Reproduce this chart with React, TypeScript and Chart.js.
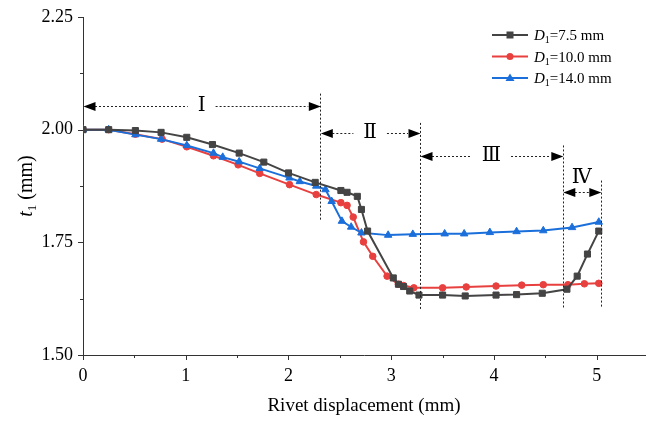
import React, { useEffect, useRef } from 'react';
import { Chart, registerables } from 'chart.js';
Chart.register(...registerables);

// ---- data ----
const x75 = [0, 0.25, 0.51, 0.76, 1.01, 1.26, 1.52, 1.76, 2.0, 2.26, 2.51, 2.57, 2.67, 2.71, 2.77, 3.02, 3.07, 3.12, 3.18, 3.27, 3.5, 3.72, 4.02, 4.22, 4.47, 4.71, 4.81, 4.91, 5.02];
const y75 = [2.0, 2.0, 1.998, 1.994, 1.983, 1.967, 1.948, 1.928, 1.904, 1.883, 1.865, 1.861, 1.852, 1.823, 1.775, 1.671, 1.657, 1.652, 1.642, 1.633, 1.633, 1.631, 1.633, 1.634, 1.637, 1.646, 1.675, 1.724, 1.775];

const x10 = [0, 0.25, 0.51, 0.77, 1.01, 1.27, 1.51, 1.72, 2.01, 2.27, 2.51, 2.57, 2.63, 2.73, 2.82, 2.96, 3.07, 3.12, 3.22, 3.5, 3.73, 4.02, 4.27, 4.48, 4.72, 4.88, 5.02];
const y10 = [2.0, 2.0, 1.99, 1.979, 1.962, 1.942, 1.922, 1.903, 1.878, 1.856, 1.838, 1.832, 1.806, 1.751, 1.719, 1.675, 1.657, 1.654, 1.649, 1.649, 1.651, 1.653, 1.655, 1.656, 1.656, 1.658, 1.659];

const x14 = [0, 0.25, 0.51, 0.76, 1.01, 1.27, 1.36, 1.52, 1.72, 2.01, 2.11, 2.27, 2.36, 2.42, 2.52, 2.61, 2.71, 2.97, 3.21, 3.52, 3.71, 3.96, 4.22, 4.48, 4.76, 5.02];
const y14 = [2.0, 2.0, 1.989, 1.979, 1.965, 1.948, 1.939, 1.929, 1.914, 1.893, 1.885, 1.875, 1.867, 1.841, 1.797, 1.784, 1.771, 1.766, 1.768, 1.769, 1.769, 1.772, 1.774, 1.776, 1.783, 1.795];

const seriesNames = ['7.5 mm', '10.0 mm', '14.0 mm'];
const xTicks = [0, 1, 2, 3, 4, 5];
const yTicks = [1.5, 1.75, 2.0, 2.25];

// region annotations (data units)
const regionBounds = [0, 2.31, 3.28, 4.67, 5.04];
const regionLabels = ['Ⅰ', 'Ⅱ', 'Ⅲ', 'Ⅳ'];
const regionArrowY = [2.053, 1.993, 1.942, 1.861];
const dividerTop = [2.08, 2.015, 1.965, 1.887];
const dividerBottom = [1.799, 1.6, 1.604, 1.604];

const COLORS = ['#444444', '#e8403f', '#1b6fdb'];
const STYLES = ['rect', 'circle', 'triangle'];
const SERIF = '"Liberation Serif", "Times New Roman", "DejaVu Serif", serif';

function pts(xs: number[], ys: number[]) {
  return xs.map((x, i) => ({ x, y: ys[i] }));
}

function drawArrowHead(ctx: CanvasRenderingContext2D, tipX: number, y: number, dir: number) {
  const L = 12, H = 4.5;
  ctx.beginPath();
  ctx.moveTo(tipX, y);
  ctx.lineTo(tipX - dir * L, y - H);
  ctx.lineTo(tipX - dir * L, y + H);
  ctx.closePath();
  ctx.fill();
}

const annotPlugin = {
  id: 'annot',
  afterDraw(chart: any) {
    const ctx: CanvasRenderingContext2D = chart.ctx;
    const xs = chart.scales.x;
    const ys = chart.scales.y;
    const ca = chart.chartArea;
    ctx.save();
    // ticks (major + minor)
    ctx.strokeStyle = '#333';
    ctx.lineWidth = 1;
    for (let v = 0; v <= 5.46; v += 0.5) {
      const px = Math.round(xs.getPixelForValue(v)) + 0.5;
      const major = Math.abs(v - Math.round(v)) < 1e-6;
      ctx.beginPath();
      ctx.moveTo(px, ca.bottom);
      ctx.lineTo(px, ca.bottom + (major ? 5 : 3));
      ctx.stroke();
    }
    for (let v = 1.5; v <= 2.2501; v += 0.125) {
      const py = Math.round(ys.getPixelForValue(v)) + 0.5;
      const major = Math.abs(v * 4 - Math.round(v * 4)) < 1e-6;
      ctx.beginPath();
      ctx.moveTo(ca.left, py);
      ctx.lineTo(ca.left - (major ? 5 : 3), py);
      ctx.stroke();
    }

    // dividers
    ctx.setLineDash([2, 2]);
    ctx.strokeStyle = '#222';
    for (let i = 1; i < regionBounds.length; i++) {
      const px = Math.round(xs.getPixelForValue(regionBounds[i])) + 0.5;
      ctx.beginPath();
      ctx.moveTo(px, ys.getPixelForValue(dividerTop[i - 1]));
      ctx.lineTo(px, ys.getPixelForValue(dividerBottom[i - 1]));
      ctx.stroke();
    }
    // arrows + labels
    ctx.font = `20px ${SERIF}`;
    ctx.textAlign = 'center';
    ctx.textBaseline = 'middle';
    for (let i = 0; i < regionLabels.length; i++) {
      const x0 = xs.getPixelForValue(regionBounds[i]);
      const x1 = xs.getPixelForValue(regionBounds[i + 1]);
      const py = Math.round(ys.getPixelForValue(regionArrowY[i])) + 0.5;
      const mid = (x0 + x1) / 2;
      const inline = i < 3;
      ctx.setLineDash([2, 2]);
      ctx.strokeStyle = '#222';
      ctx.beginPath();
      if (inline) {
        const w = ctx.measureText(regionLabels[i]).width / 2 + 10;
        ctx.moveTo(x0 + 12, py);
        ctx.lineTo(mid - w, py);
        ctx.moveTo(mid + w, py);
        ctx.lineTo(x1 - 12, py);
      } else {
        ctx.moveTo(x0 + 12, py);
        ctx.lineTo(x1 - 12, py);
      }
      ctx.stroke();
      ctx.setLineDash([]);
      ctx.fillStyle = '#000';
      drawArrowHead(ctx, x0 + 0.5, py, -1);
      drawArrowHead(ctx, x1 + 0.5, py, 1);
      ctx.fillStyle = '#000';
      if (inline) ctx.fillText(regionLabels[i], mid, py - 1);
      else ctx.fillText(regionLabels[i], mid, py - 15);
    }
    ctx.setLineDash([]);

    // legend
    const lx = ca.right - 153;
    const ly0 = ca.top + 18;
    for (let i = 0; i < seriesNames.length; i++) {
      const y = ly0 + i * 21.5;
      ctx.strokeStyle = COLORS[i];
      ctx.fillStyle = COLORS[i];
      ctx.lineWidth = 2;
      ctx.beginPath();
      ctx.moveTo(lx, y);
      ctx.lineTo(lx + 36, y);
      ctx.stroke();
      const cx = lx + 18;
      if (i === 0) ctx.fillRect(cx - 3.5, y - 3.5, 7, 7);
      else if (i === 1) {
        ctx.beginPath();
        ctx.arc(cx, y, 3.5, 0, Math.PI * 2);
        ctx.fill();
      } else {
        ctx.beginPath();
        ctx.moveTo(cx, y - 4.5);
        ctx.lineTo(cx + 4.5, y + 3);
        ctx.lineTo(cx - 4.5, y + 3);
        ctx.closePath();
        ctx.fill();
      }
      ctx.fillStyle = '#000';
      ctx.textAlign = 'left';
      ctx.textBaseline = 'alphabetic';
      let tx = lx + 42;
      const base = y + 5;
      ctx.font = `italic 15px ${SERIF}`;
      ctx.fillText('D', tx, base);
      tx += ctx.measureText('D').width;
      ctx.font = `10px ${SERIF}`;
      ctx.fillText('1', tx, base + 3);
      tx += ctx.measureText('1').width;
      ctx.font = `15px ${SERIF}`;
      ctx.fillText('=' + seriesNames[i], tx, base);
    }

    // axis titles
    ctx.fillStyle = '#000';
    ctx.font = `19px ${SERIF}`;
    ctx.textAlign = 'center';
    ctx.textBaseline = 'alphabetic';
    ctx.fillText('Rivet displacement (mm)', (ca.left + ca.right) / 2, 411);

    ctx.save();
    ctx.translate(32, (ca.top + ca.bottom) / 2);
    ctx.rotate(-Math.PI / 2);
    const FS = 20;
    ctx.font = `${FS}px ${SERIF}`;
    const p3 = ' (mm)';
    const w3 = ctx.measureText(p3).width;
    ctx.font = `${Math.round(FS * 0.65)}px ${SERIF}`;
    const w2 = ctx.measureText('1').width;
    ctx.font = `italic ${FS}px ${SERIF}`;
    const w1 = ctx.measureText('t').width;
    let sx = -(w1 + w2 + w3) / 2;
    ctx.textAlign = 'left';
    ctx.fillText('t', sx, 0);
    sx += w1;
    ctx.font = `${Math.round(FS * 0.65)}px ${SERIF}`;
    ctx.fillText('1', sx, 4);
    sx += w2;
    ctx.font = `${FS}px ${SERIF}`;
    ctx.fillText(p3, sx, 0);
    ctx.restore();

    ctx.restore();
  },
};

export default function App() {
  const ref = useRef<HTMLCanvasElement>(null);
  useEffect(() => {
    document.body.style.margin = '0';
    const mk = (i: number, xs: number[], ys: number[], order: number, r: number) => ({
      label: seriesNames[i],
      data: pts(xs, ys),
      borderColor: COLORS[i],
      backgroundColor: COLORS[i],
      pointBackgroundColor: COLORS[i],
      pointBorderColor: COLORS[i],
      pointBorderWidth: 1,
      pointStyle: STYLES[i],
      pointRadius: r,
      borderWidth: 2,
      tension: 0,
      order,
    });
    const chart = new Chart(ref.current!, {
      type: 'line',
      data: {
        datasets: [
          mk(0, x75, y75, 0, 4.3),
          mk(1, x10, y10, 2, 3.3),
          mk(2, x14, y14, 1, 4.3),
        ],
      },
      options: {
        animation: false,
        responsive: false,
        maintainAspectRatio: false,
        layout: { autoPadding: false, padding: { top: 17, right: 4, left: 0, bottom: 0 } },
        plugins: { legend: { display: false }, tooltip: { enabled: false } },
        scales: {
          x: {
            type: 'linear',
            min: 0,
            max: 5.47,
            afterFit: (s: any) => { s.height = 66; s.paddingLeft = 0; s.paddingRight = 0; s.paddingTop = 0; s.paddingBottom = 0; },
            afterBuildTicks: (s: any) => { s.ticks = xTicks.map((v) => ({ value: v })); },
            grid: { display: false, drawTicks: false, tickLength: 0 },
            border: { display: true, color: '#333', width: 1 },
            ticks: {
              padding: 10,
              color: '#000',
              font: { family: SERIF, size: 18 },
              maxRotation: 0,
              callback: (v: any) => String(v),
            },
          },
          y: {
            type: 'linear',
            min: 1.5,
            max: 2.25,
            afterFit: (s: any) => { s.width = 83; s.paddingLeft = 0; s.paddingRight = 0; s.paddingTop = 0; s.paddingBottom = 0; },
            afterBuildTicks: (s: any) => { s.ticks = yTicks.map((v) => ({ value: v })); },
            grid: { display: false, drawTicks: false, tickLength: 0 },
            border: { display: true, color: '#333', width: 1 },
            ticks: {
              padding: 10,
              color: '#000',
              font: { family: SERIF, size: 18 },
              callback: (v: any) => Number(v).toFixed(2),
            },
          },
        },
      },
      plugins: [annotPlugin],
    } as any);
    return () => chart.destroy();
  }, []);
  return (
    <div style={{ width: 649, height: 421 }}>
      <canvas ref={ref} width={649} height={421} style={{ display: 'block' }} />
    </div>
  );
}
